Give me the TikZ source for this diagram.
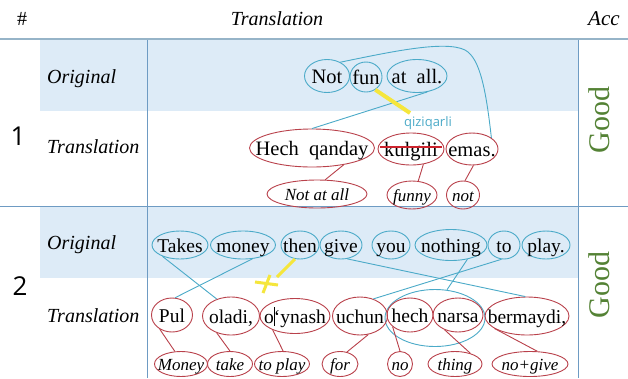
\documentclass[tikz,border=0pt]{standalone}
\usepackage{fontspec}
\setmainfont{Liberation Serif}
\newfontfamily\sansf{Open Sans}
\usetikzlibrary{shapes.geometric}
\definecolor{band}{RGB}{221,235,247}
\definecolor{grid}{RGB}{110,155,195}
\definecolor{hdr}{RGB}{150,180,200}
\definecolor{ebl}{RGB}{75,170,200}
\definecolor{erd}{RGB}{185,65,75}
\definecolor{strk}{RGB}{205,35,45}
\definecolor{yel}{RGB}{245,230,60}
\definecolor{grn}{RGB}{84,130,53}
\tikzset{
 bo/.style={ellipse, draw=ebl, line width=0.9pt, inner sep=0pt},
 ro/.style={ellipse, draw=erd, line width=0.9pt, inner sep=0pt},
 wa/.style={font=\fontsize{20.5}{20.5}\selectfont, inner sep=0pt, text height=14pt, text depth=0pt},
 wb/.style={font=\fontsize{19.5}{19.5}\selectfont, inner sep=0pt, text height=14pt, text depth=0pt},
 gl/.style={font=\fontsize{17}{17}\selectfont\itshape, inner sep=0pt, text height=12pt, text depth=0pt},
 lab/.style={font=\fontsize{20}{20}\selectfont\itshape, inner sep=0pt, anchor=base west},
 bl/.style={draw=ebl, line width=0.9pt},
 rl/.style={draw=erd, line width=0.9pt},
 yl/.style={draw=yel, line width=3pt},
 good/.style={font=\fontsize{30}{30}\selectfont, text=grn, rotate=90, inner sep=0pt},
 num/.style={font=\sansf\fontsize{26}{26}\selectfont, inner sep=0pt},
}
\newcommand\ew[8]{\node[#2, minimum width=#5pt, minimum height=#6pt] (#1) at (#3,#4) {};
 \node[#7] (#1t) at (#1.center) {#8};}
\begin{document}
\begin{tikzpicture}[x=1pt,y=-1pt]
\useasboundingbox (0,0) rectangle (628,378);
\clip (0,0) rectangle (628,378);
\fill[white] (0,0) rectangle (628,378);
\fill[band] (40,40) rectangle (578,111);
\fill[band] (40,207) rectangle (578,278);
\draw[hdr, line width=2.2pt] (0,39) -- (628,39);
\draw[grid, line width=1pt] (0,206) -- (628,206);
\draw[grid, line width=0.9pt] (147,40) -- (147,378);
\draw[grid, line width=0.9pt] (578,40) -- (578,378);
% header
\node[font=\fontsize{20}{20}\selectfont, anchor=base, inner sep=0pt] (hash) at (22,25) {\#};
\node[font=\fontsize{20}{20}\selectfont\itshape, anchor=base, inner sep=0pt] (htr) at (277,25) {Translation};
\node[font=\fontsize{21}{21}\selectfont\itshape, anchor=base west, inner sep=0pt] (hacc) at (588,25) {Acc};
% row labels
\node[num] (n1) at (18,136) {1};
\node[num] (n2) at (20,286) {2};
\node[lab] (o1) at (47,83) {Original};
\node[lab] (t1) at (47,153) {Translation};
\node[lab] (o2) at (47,249) {Original};
\node[lab] (t2) at (47,322) {Translation};
\node[good] (g1) at (599,120) {Good};
\node[good] (g2) at (599,285) {Good};
% row 1
\ew{not}{bo}{327}{76}{45}{33}{wa}{Not}
\ew{fun}{bo}{366}{77}{32}{30}{wa}{fun}
\ew{atall}{bo}{417}{76}{60}{33}{wa}{at~~all.}
\ew{hq}{ro}{312}{148}{125}{38}{wa}{Hech~~qanday}
\ew{kul}{ro}{411}{149}{66}{32}{wa}{kulgili}
\ew{emas}{ro}{472}{149}{52}{32}{wa}{emas.}
\ew{nata}{ro}{317}{194}{100}{28}{gl}{Not at all}
\ew{funny}{ro}{412}{195}{50}{28}{gl}{funny}
\ew{notg}{ro}{463}{195}{33}{28}{gl}{not}
\draw[draw=strk, line width=2.6pt] ([shift={(2pt,2pt)}]kul.west) -- ([shift={(-2pt,2pt)}]kul.east);
\draw[bl] (not.46) .. controls (390,52) and (445,40) .. (465,50) .. controls (480,58) and (486,90) .. (emas.30);
\draw[bl] (atall.-57) -- (hq.north);
\draw[rl] (hq.-28) -- (nata.60);
\draw[rl] (kul.-51) -- (funny.66);
\draw[rl] (emas.-85) -- (notg.82);
\coordinate (y1) at (410,113);
\draw[yl, line width=4pt] (fun.-54) -- (y1);
\node[font=\sansf\fontsize{13}{13}\selectfont, text=ebl, inner sep=0pt] (qz) at (428,123) {qiziqarli};
% row 2 original
\ew{takes}{bo}{180}{245}{56}{28}{wb}{Takes}
\ew{money}{bo}{243}{245}{65}{28}{wb}{money}
\ew{then}{bo}{300}{245}{38}{28}{wb}{then}
\ew{give}{bo}{341}{245}{42}{28}{wb}{give}
\ew{you}{bo}{391}{245}{38}{28}{wb}{you}
\ew{nothing}{bo}{451}{245}{72}{31}{wb}{nothing}
\ew{to}{bo}{504}{245}{32}{28}{wb}{to}
\ew{play}{bo}{546}{245}{48}{28}{wb}{play.}
% row 2 translation
\node[ellipse, draw=ebl, line width=0.9pt, inner sep=0pt, minimum width=100pt, minimum height=57pt] (hn) at (435,318) {};
\ew{pul}{ro}{172}{315}{41}{34}{wb}{Pul}
\ew{oladi}{ro}{231}{316}{57}{38}{wb}{oladi,}
\ew{oyn}{ro}{295}{316}{70}{35}{wb}{o\kern0.5pt\rule[-0.15em]{0.7pt}{0.95em}\kern-1.2pt‘ynash}
\ew{uchun}{ro}{360}{316}{55}{38}{wb}{uchun}
\ew{hech}{ro}{410}{315}{46}{34}{wb}{hech}
\ew{narsa}{ro}{458}{315}{50}{34}{wb}{narsa}
\ew{berm}{ro}{527}{316}{84}{38}{wb}{bermaydi,}
% row 2 glosses
\ew{moneyg}{ro}{181}{364}{53}{25}{gl}{Money}
\ew{take}{ro}{230}{364}{45}{25}{gl}{take}
\ew{toplay}{ro}{282}{364}{55}{25}{gl}{to play}
\ew{for}{ro}{340}{364}{36}{25}{gl}{for}
\ew{no}{ro}{400}{364}{25}{25}{gl}{no}
\ew{thing}{ro}{455}{364}{54}{25}{gl}{thing}
\ew{nogive}{ro}{530}{364}{76}{25}{gl}{no+give}
% row 2 connectors
\draw[bl] (takes.-147) -- (oladi.130);
\draw[bl] (money.-56) -- (pul.80);
\draw[bl] (give.-66) -- (berm.95);
\draw[bl] (nothing.-41) -- (hn.67);
\draw[bl] (to.-100) -- (uchun.52);
\draw[rl] (pul.-131) -- (moneyg.116);
\draw[rl] (oladi.-130) -- (take.90);
\draw[rl] (oyn.-148) -- (toplay.85);
\draw[rl] (uchun.-66) -- (for.60);
\draw[rl] (hech.-146) -- (no.90);
\draw[rl] (narsa.-132) -- (thing.35);
\draw[rl] (berm.-159) -- (nogive.60);
\coordinate (y2) at (277,277);
\draw[yl] (then.-110) -- (y2);
\draw[yl] (255,282) -- (278,285);
\draw[yl] (270,275) -- (263,293);
\end{tikzpicture}
\end{document}
